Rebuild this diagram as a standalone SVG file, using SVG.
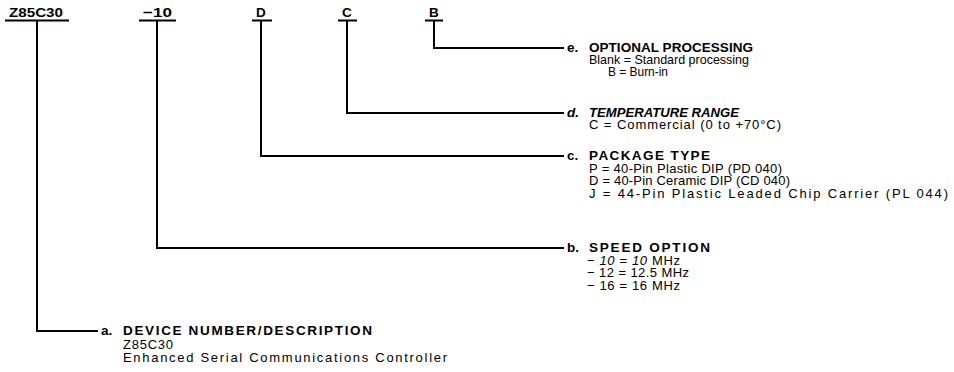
<svg xmlns="http://www.w3.org/2000/svg" width="954" height="372" viewBox="0 0 954 372">
<style>
text{font-family:"Liberation Sans",Arial,sans-serif;font-size:13px;fill:#000}
.b{font-weight:bold;font-size:13.5px}
.i{font-style:italic}
.c{fill:none;stroke:#000;stroke-width:2}
</style>
<rect width="954" height="372" fill="#fff"/>
<g id="codes">
<g id="code-z85c30"><text class="b" x="9" y="17" textLength="54" lengthAdjust="spacingAndGlyphs">Z85C30</text><line class="c" x1="5" y1="20.5" x2="69" y2="20.5"/></g>
<g id="code-10"><text class="b" x="143" y="17" textLength="29" lengthAdjust="spacingAndGlyphs">−10</text><line class="c" x1="139" y1="20.5" x2="176" y2="20.5"/></g>
<g id="code-d"><text class="b" x="256" y="17">D</text><line class="c" x1="252" y1="20.5" x2="272" y2="20.5"/></g>
<g id="code-c"><text class="b" x="342" y="17">C</text><line class="c" x1="338" y1="20.5" x2="357" y2="20.5"/></g>
<g id="code-b"><text class="b" x="429" y="17">B</text><line class="c" x1="425" y1="20.5" x2="443" y2="20.5"/></g>
</g>
<g id="connectors">
<polyline class="c" points="434,20 434,48 564,48"/>
<polyline class="c" points="347,20 347,113 564,113"/>
<polyline class="c" points="261,20 261,156 564,156"/>
<polyline class="c" points="157,20 157,248 564,248"/>
<polyline class="c" points="37,20 37,331 98,331"/>
</g>
<g id="e-optional-processing">
<text class="b" x="567" y="52">e.</text>
<text class="b" x="589" y="52" textLength="164" lengthAdjust="spacing">OPTIONAL PROCESSING</text>
<text x="589" y="64" textLength="160" lengthAdjust="spacingAndGlyphs">Blank = Standard processing</text>
<text x="608" y="76" textLength="60" lengthAdjust="spacingAndGlyphs">B = Burn-in</text>
</g>
<g id="d-temperature-range">
<text class="b i" x="567" y="117">d.</text>
<text class="b i" x="589" y="117" textLength="150" lengthAdjust="spacingAndGlyphs">TEMPERATURE RANGE</text>
<text x="589" y="129" textLength="192" lengthAdjust="spacing">C = Commercial (0 to +70°C)</text>
</g>
<g id="c-package-type">
<text class="b" x="567" y="160">c.</text>
<text class="b" x="589" y="160" textLength="121" lengthAdjust="spacing">PACKAGE TYPE</text>
<text x="589" y="172.5" textLength="193" lengthAdjust="spacing">P = 40-Pin Plastic DIP (PD 040)</text>
<text x="589" y="185" textLength="201" lengthAdjust="spacing">D = 40-Pin Ceramic DIP (CD 040)</text>
<text x="589" y="197.5" textLength="359" lengthAdjust="spacing">J = 44-Pin Plastic Leaded Chip Carrier (PL 044)</text>
</g>
<g id="b-speed-option">
<text class="b" x="567" y="252">b.</text>
<text class="b" x="589" y="252" textLength="121" lengthAdjust="spacing">SPEED OPTION</text>
<text x="587" y="264.5" textLength="93" lengthAdjust="spacing">− <tspan class="i">10</tspan> = <tspan class="i">10</tspan> MHz</text>
<text x="587" y="277" textLength="102" lengthAdjust="spacing">− 12 = 12.5 MHz</text>
<text x="587" y="289.5" textLength="93" lengthAdjust="spacing">− 16 = 16 MHz</text>
</g>
<g id="a-device-number">
<text class="b" x="101" y="335">a.</text>
<text class="b" x="123" y="335" textLength="249" lengthAdjust="spacing">DEVICE NUMBER/DESCRIPTION</text>
<text x="123" y="348.5" textLength="50" lengthAdjust="spacing">Z85C30</text>
<text x="123" y="362" textLength="324" lengthAdjust="spacing">Enhanced Serial Communications Controller</text>
</g>
</svg>
